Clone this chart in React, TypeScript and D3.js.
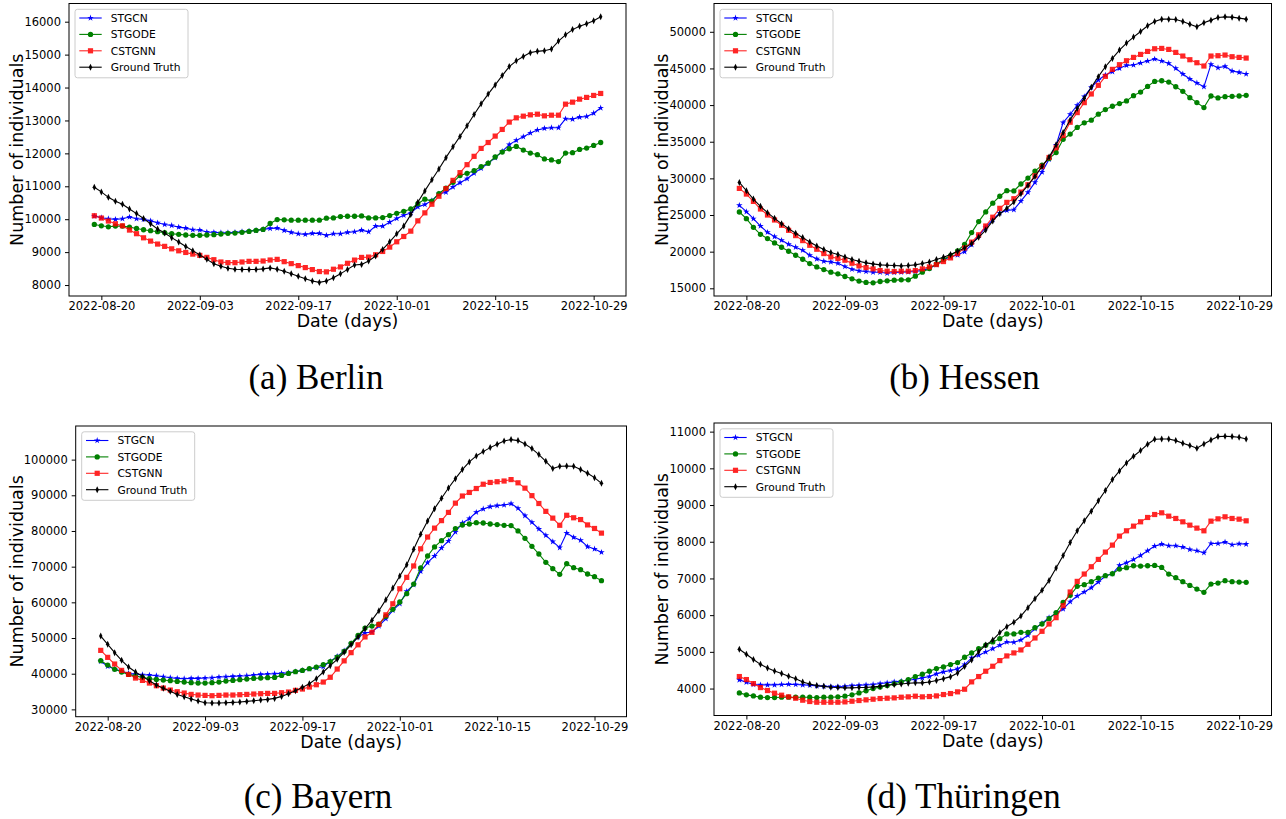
import React, { useRef, useEffect } from 'react';
import * as d3 from 'd3';

// x axis: one point per day, 2022-08-19 .. 2022-10-30
const firstDay = '2022-08-19';
const dayCount = 73;
const xTickLabels = ['2022-08-20', '2022-09-03', '2022-09-17', '2022-10-01', '2022-10-15', '2022-10-29'];
const seriesNames = ['STGCN', 'STGODE', 'CSTGNN', 'Ground Truth'];

// (a) Berlin
const berlinSTGCN = [10095, 10045, 10015, 9995, 10015, 10065, 10015, 9995, 9950, 9890, 9840, 9810, 9760, 9730, 9680, 9670, 9610, 9600, 9590, 9590, 9600, 9620, 9640, 9660, 9690, 9720, 9730, 9660, 9600, 9560, 9540, 9570, 9570, 9510, 9560, 9560, 9600, 9617, 9667, 9617, 9790, 9790, 9910, 10020, 10120, 10190, 10375, 10445, 10565, 10770, 10820, 10980, 11110, 11230, 11395, 11545, 11700, 11870, 12060, 12265, 12395, 12505, 12620, 12710, 12760, 12780, 12780, 13050, 13040, 13100, 13120, 13220, 13380];
const berlinSTGODE = [9840, 9800, 9770, 9790, 9790, 9760, 9720, 9680, 9650, 9620, 9590, 9560, 9540, 9520, 9510, 9510, 9520, 9530, 9550, 9570, 9580, 9600, 9630, 9660, 9690, 9870, 9990, 9980, 9970, 9970, 9970, 9970, 9970, 10030, 10040, 10080, 10090, 10090, 10100, 10040, 10040, 10050, 10110, 10180, 10240, 10310, 10470, 10610, 10550, 10780, 10940, 11120, 11325, 11395, 11475, 11600, 11700, 11890, 12040, 12140, 12210, 12100, 12010, 11960, 11830, 11800, 11750, 12010, 12020, 12120, 12160, 12240, 12330];
const berlinCSTGNN = [10105, 10035, 9945, 9860, 9800, 9670, 9560, 9435, 9335, 9245, 9175, 9100, 9040, 8990, 8940, 8900, 8840, 8770, 8700, 8680, 8680, 8700, 8720, 8720, 8730, 8760, 8780, 8710, 8650, 8590, 8530, 8470, 8410, 8400, 8480, 8550, 8660, 8758, 8839, 8849, 8920, 9020, 9152, 9314, 9475, 9637, 9950, 10193, 10455, 10698, 10930, 11180, 11415, 11657, 11910, 12150, 12330, 12525, 12727, 12950, 13080, 13130, 13170, 13190, 13140, 13160, 13160, 13495, 13556, 13647, 13700, 13760, 13820];
const berlinTruth = [10970, 10830, 10665, 10545, 10455, 10310, 10170, 10020, 9860, 9700, 9580, 9440, 9310, 9170, 9045, 8910, 8780, 8650, 8570, 8510, 8480, 8470, 8470, 8470, 8490, 8520, 8480, 8420, 8340, 8270, 8190, 8120, 8080, 8120, 8220, 8340, 8475, 8607, 8627, 8728, 8880, 9080, 9314, 9556, 9790, 10140, 10515, 10860, 11200, 11525, 11870, 12200, 12515, 12840, 13180, 13505, 13800, 14080, 14364, 14636, 14810, 14940, 15060, 15100, 15120, 15170, 15410, 15600, 15760, 15860, 15940, 16030, 16150];
const berlinTicks = [8000, 9000, 10000, 11000, 12000, 13000, 14000, 15000, 16000];

// (b) Hessen
const hessenSTGCN = [26320, 25455, 24500, 23500, 22640, 22050, 21550, 21010, 20600, 20190, 19510, 19010, 18700, 18600, 18420, 17970, 17600, 17380, 17290, 17200, 17200, 17060, 17150, 17200, 17240, 17300, 17450, 17750, 18200, 18900, 19300, 19550, 20000, 20960, 22190, 23300, 24365, 25275, 25635, 25725, 26905, 28090, 29450, 30855, 32620, 34530, 37615, 38750, 39975, 41150, 42420, 43420, 44100, 44555, 45010, 45420, 45460, 45735, 46010, 46280, 46010, 45690, 45010, 44240, 43555, 43010, 42510, 45550, 45100, 45280, 44650, 44465, 44240];
const hessenSTGODE = [25410, 24500, 23320, 22370, 21780, 21190, 20600, 20055, 19510, 18965, 18380, 17920, 17560, 17200, 16970, 16610, 16300, 15980, 15800, 15750, 15930, 16020, 16110, 16155, 16155, 16655, 17200, 17700, 18330, 18920, 19470, 20100, 21000, 22600, 24100, 25420, 26620, 27560, 28320, 28280, 29230, 30040, 31000, 31800, 32700, 33520, 35330, 36050, 36950, 37580, 37940, 38760, 39390, 39840, 40200, 40570, 41290, 41780, 42550, 43230, 43320, 43140, 42500, 41870, 41010, 40340, 39660, 41240, 40970, 41150, 41200, 41240, 41330];
const hessenCSTGNN = [28630, 27860, 26860, 25820, 25000, 24320, 23600, 22910, 22190, 21510, 20870, 20330, 19740, 19285, 19060, 18830, 18420, 18060, 17830, 17650, 17420, 17330, 17290, 17330, 17330, 17420, 17650, 17920, 18240, 18650, 19150, 19740, 20510, 21300, 22300, 23500, 24700, 25910, 26725, 27225, 28130, 29130, 30355, 31625, 32850, 34165, 35845, 37660, 38975, 40335, 41515, 42695, 43920, 44870, 45510, 46050, 46505, 46915, 47320, 47685, 47730, 47595, 47185, 46690, 46190, 45780, 45330, 46690, 46735, 46825, 46600, 46505, 46415];
const hessenTruth = [29447, 28313, 27180, 26180, 25320, 24550, 23820, 23140, 22505, 21915, 21330, 20780, 20280, 19875, 19600, 19285, 18920, 18700, 18470, 18330, 18200, 18150, 18105, 18060, 18105, 18200, 18380, 18600, 18920, 19240, 19600, 20055, 20510, 21100, 21950, 22950, 24200, 25180, 25910, 26770, 27905, 29040, 30260, 31625, 32900, 34575, 36250, 37980, 39520, 40925, 42420, 43875, 45235, 46370, 47505, 48460, 49275, 50045, 50815, 51400, 51725, 51725, 51680, 51400, 51040, 50680, 51225, 51590, 51950, 52040, 52000, 51860, 51725];
const hessenTicks = [15000, 20000, 25000, 30000, 35000, 40000, 45000, 50000];

// (c) Bayern
const bayernSTGCN = [43460, 42060, 41310, 40650, 40090, 39810, 39720, 39620, 39440, 39160, 38880, 38690, 38600, 38690, 38690, 38780, 38880, 39060, 39160, 39250, 39340, 39440, 39620, 39810, 39900, 40000, 40090, 40280, 40560, 40930, 41310, 41680, 41960, 43460, 44860, 46400, 48410, 50280, 51400, 51680, 53360, 55420, 57760, 59620, 63080, 64950, 68690, 71120, 72990, 75240, 77200, 79720, 82240, 83460, 85240, 86170, 86820, 87100, 87290, 87660, 86360, 84300, 82430, 80560, 78780, 77010, 75330, 79440, 78220, 77380, 75610, 74950, 74020];
const bayernSTGODE = [43640, 42430, 41220, 40470, 39810, 39340, 38970, 38600, 38410, 38220, 38040, 37850, 37660, 37480, 37380, 37380, 37480, 37660, 37940, 38130, 38320, 38500, 38690, 38780, 38880, 38970, 39530, 40090, 40560, 40930, 41400, 41870, 42520, 43360, 44670, 46260, 48500, 50740, 52800, 53360, 53920, 56070, 58030, 60090, 62420, 65130, 69630, 72990, 75520, 77290, 78970, 80660, 81680, 81960, 82340, 82240, 81960, 81780, 81590, 81500, 80000, 77940, 75700, 73550, 71210, 69440, 67850, 70840, 69720, 69160, 67940, 67200, 66070];
const bayernCSTGNN = [46540, 44580, 42710, 40930, 39810, 38780, 38130, 37380, 36630, 35980, 35420, 34950, 34580, 34200, 34020, 33920, 33830, 33920, 34020, 34020, 34110, 34200, 34300, 34390, 34480, 34480, 34670, 34860, 35330, 35700, 36260, 36910, 37660, 39000, 41300, 43600, 45900, 48100, 50300, 51600, 53800, 56500, 59600, 63800, 67000, 70200, 75000, 78300, 80800, 82900, 85200, 87800, 89800, 90800, 91900, 93100, 93600, 93800, 94000, 94400, 93500, 92000, 89900, 87700, 85500, 83600, 81600, 84400, 83700, 83200, 81700, 80700, 79400];
const bayernTruth = [50560, 48220, 45890, 43740, 41870, 40470, 39250, 38040, 36820, 35890, 35050, 34200, 33550, 32900, 32340, 31870, 31780, 31780, 31870, 31960, 32050, 32240, 32430, 32620, 32800, 33080, 33640, 34390, 35230, 36170, 37200, 38600, 40470, 42240, 44020, 45980, 48100, 50300, 52600, 55000, 57660, 60750, 64020, 67380, 70560, 74860, 79070, 82800, 86260, 89160, 92060, 94670, 97200, 99350, 101030, 102240, 103360, 104300, 105230, 105610, 105330, 104390, 103080, 101400, 99530, 97480, 98130, 98220, 98130, 97200, 96170, 94950, 93360];
const bayernTicks = [30000, 40000, 50000, 60000, 70000, 80000, 90000, 100000];

// (d) Thüringen
const thuringenSTGCN = [4236, 4173, 4110, 4100, 4100, 4100, 4110, 4118, 4110, 4100, 4090, 4073, 4063, 4055, 4055, 4063, 4082, 4090, 4100, 4110, 4136, 4155, 4182, 4200, 4227, 4255, 4290, 4327, 4400, 4454, 4490, 4535, 4653, 4835, 4907, 4998, 5088, 5179, 5270, 5261, 5324, 5451, 5632, 5778, 5932, 6050, 6167, 6367, 6521, 6630, 6748, 6902, 7065, 7128, 7355, 7428, 7518, 7627, 7754, 7881, 7935, 7890, 7890, 7854, 7790, 7754, 7700, 7954, 7954, 7990, 7917, 7944, 7935];
const thuringenSTGODE = [3882, 3828, 3800, 3764, 3755, 3755, 3764, 3764, 3764, 3764, 3764, 3755, 3764, 3764, 3774, 3792, 3830, 3880, 3940, 4000, 4040, 4080, 4130, 4180, 4245, 4327, 4390, 4472, 4545, 4590, 4653, 4707, 4853, 4970, 5088, 5180, 5270, 5360, 5487, 5487, 5533, 5533, 5660, 5759, 5904, 6068, 6349, 6539, 6784, 6830, 6911, 7011, 7074, 7128, 7255, 7292, 7346, 7337, 7346, 7355, 7301, 7120, 7020, 6911, 6811, 6711, 6621, 6847, 6875, 6938, 6911, 6902, 6893];
const thuringenCSTGNN = [4327, 4245, 4136, 4027, 3946, 3873, 3819, 3774, 3737, 3683, 3647, 3628, 3628, 3628, 3628, 3637, 3655, 3674, 3692, 3710, 3728, 3737, 3746, 3764, 3774, 3792, 3774, 3783, 3800, 3837, 3864, 3910, 3982, 4182, 4327, 4472, 4608, 4762, 4889, 4971, 5052, 5206, 5378, 5560, 5759, 5932, 6258, 6630, 6920, 7120, 7319, 7518, 7718, 7908, 8153, 8298, 8425, 8543, 8661, 8742, 8788, 8697, 8634, 8543, 8452, 8371, 8298, 8561, 8624, 8679, 8634, 8615, 8570];
const thuringenTruth = [5070, 4935, 4790, 4660, 4560, 4480, 4410, 4335, 4265, 4180, 4125, 4080, 4060, 4035, 4030, 4020, 4020, 4030, 4030, 4045, 4060, 4090, 4110, 4125, 4145, 4155, 4155, 4180, 4220, 4270, 4325, 4425, 4600, 4780, 5000, 5190, 5320, 5524, 5687, 5805, 5977, 6204, 6448, 6675, 6947, 7283, 7627, 7981, 8298, 8570, 8833, 9114, 9395, 9694, 9930, 10148, 10329, 10483, 10655, 10791, 10800, 10800, 10755, 10683, 10619, 10547, 10665, 10773, 10864, 10873, 10864, 10846, 10800];
const thuringenTicks = [4000, 5000, 6000, 7000, 8000, 9000, 10000, 11000];

const W = 1286;
const H = 819;
const SANS = 'DejaVu Sans, sans-serif';

const styles = [
  { color: '#0000ff', marker: 'star', opacity: 1 },
  { color: '#008000', marker: 'circle', opacity: 1 },
  { color: '#ff0000', marker: 'square', opacity: 0.85 },
  { color: '#000000', marker: 'diamond', opacity: 1 },
];

const panels = [
  { caption: '(a) Berlin', series: [berlinSTGCN, berlinSTGODE, berlinCSTGNN, berlinTruth], ticks: berlinTicks,
    yDomain: [7667, 16553], left: 69, right: 626, top: 3.5, bottom: 296, labelX: 22.5, capX: 316, capY: 389 },
  { caption: '(b) Hessen', series: [hessenSTGCN, hessenSTGODE, hessenCSTGNN, hessenTruth], ticks: hessenTicks,
    yDomain: [13950, 53860], left: 714, right: 1271.5, top: 3.5, bottom: 296, labelX: 668, capX: 964.5, capY: 389 },
  { caption: '(c) Bayern', series: [bayernSTGCN, bayernSTGODE, bayernCSTGNN, bayernTruth], ticks: bayernTicks,
    yDomain: [27950, 109420], left: 75.7, right: 626.5, top: 426, bottom: 716.7, labelX: 22.5, capX: 318, capY: 808 },
  { caption: '(d) Thüringen', series: [thuringenSTGCN, thuringenSTGODE, thuringenCSTGNN, thuringenTruth], ticks: thuringenTicks,
    yDomain: [3266, 11235], left: 714, right: 1271.5, top: 423, bottom: 715.5, labelX: 668, capX: 963.5, capY: 808 },
];

function markerPath(kind: string) {
  if (kind === 'star') return d3.symbol(d3.symbolStar, 13)();
  if (kind === 'circle') return d3.symbol(d3.symbolCircle, 22)();
  if (kind === 'square') return d3.symbol(d3.symbolSquare, 27)();
  return 'M0,-3.5L1.7,0L0,3.5L-1.7,0Z';
}

function App() {
  const svgRef = useRef<SVGSVGElement>(null);

  useEffect(() => {
    const svg = d3.select(svgRef.current);
    svg.selectAll('*').remove();
    svg.append('rect').attr('width', W).attr('height', H).attr('fill', '#fff');

    const parse = d3.utcParse('%Y-%m-%d');
    const start = parse(firstDay) as Date;
    const days = d3.range(dayCount).map((i) => d3.utcDay.offset(start, i));
    const tickDates = xTickLabels.map((s) => parse(s) as Date);
    const pad = 3.6 * 864e5;

    panels.forEach((p) => {
      const g = svg.append('g');
      const x = d3.scaleUtc()
        .domain([new Date(+days[0] - pad), new Date(+days[dayCount - 1] + pad)])
        .range([p.left, p.right]);
      const y = d3.scaleLinear().domain(p.yDomain).range([p.bottom, p.top]);

      const line = d3.line<number>()
        .x((d, i) => x(days[i]))
        .y((d) => y(d));

      p.series.forEach((values, k) => {
        const st = styles[k];
        const sg = g.append('g').attr('opacity', st.opacity);
        sg.append('path')
          .attr('d', line(values))
          .attr('fill', 'none')
          .attr('stroke', st.color)
          .attr('stroke-width', 1.1);
        sg.selectAll(null)
          .data(values)
          .join('path')
          .attr('transform', (d, i) => `translate(${x(days[i])},${y(d)})`)
          .attr('d', markerPath(st.marker))
          .attr('fill', st.color);
      });

      // axes
      const xAxis = g.append('g')
        .attr('transform', `translate(0,${p.bottom})`)
        .call(d3.axisBottom(x).tickValues(tickDates).tickFormat(d3.utcFormat('%Y-%m-%d') as any).tickSize(4).tickPadding(2));
      xAxis.select('.domain').remove();
      xAxis.attr('font-size', 11.5).attr('font-family', SANS);
      xAxis.selectAll('text').attr('fill', '#000');

      const yAxis = g.append('g')
        .attr('transform', `translate(${p.left},0)`)
        .call(d3.axisLeft(y).tickValues(p.ticks).tickFormat(d3.format('d')).tickSize(4).tickPadding(4));
      yAxis.select('.domain').remove();
      yAxis.attr('font-size', 11.5).attr('font-family', SANS);
      yAxis.selectAll('text').attr('fill', '#000');

      g.append('rect')
        .attr('x', p.left).attr('y', p.top)
        .attr('width', p.right - p.left).attr('height', p.bottom - p.top)
        .attr('fill', 'none').attr('stroke', '#000').attr('stroke-width', 1);

      g.append('text')
        .attr('transform', `translate(${p.labelX},${(p.top + p.bottom) / 2}) rotate(-90)`)
        .attr('text-anchor', 'middle')
        .attr('font-family', SANS).attr('font-size', 17.5)
        .text('Number of individuals');

      g.append('text')
        .attr('x', (p.left + p.right) / 2).attr('y', p.bottom + 31)
        .attr('text-anchor', 'middle')
        .attr('font-family', SANS).attr('font-size', 17.4)
        .text('Date (days)');

      // legend
      const lx = p.left + 6;
      const ly = p.top + 5.8;
      const lg = g.append('g');
      lg.append('rect')
        .attr('x', lx).attr('y', ly).attr('width', 113).attr('height', 68.5).attr('rx', 2.5)
        .attr('fill', '#fff').attr('fill-opacity', 0.8)
        .attr('stroke', '#cccccc').attr('stroke-width', 1);
      seriesNames.forEach((name, k) => {
        const st = styles[k];
        const cy = ly + 8.7 + 16.4 * k;
        const eg = lg.append('g').attr('opacity', st.opacity);
        eg.append('line')
          .attr('x1', lx + 4.3).attr('x2', lx + 26.7).attr('y1', cy).attr('y2', cy)
          .attr('stroke', st.color).attr('stroke-width', 1.1);
        eg.append('path')
          .attr('transform', `translate(${lx + 15.5},${cy})`)
          .attr('d', markerPath(st.marker))
          .attr('fill', st.color);
        lg.append('text')
          .attr('x', lx + 35.7).attr('y', cy).attr('dy', '0.36em')
          .attr('font-family', SANS).attr('font-size', 10.7)
          .text(name);
      });

      svg.append('text')
        .attr('x', p.capX).attr('y', p.capY)
        .attr('text-anchor', 'middle')
        .attr('font-family', 'Liberation Serif, serif').attr('font-size', 35)
        .text(p.caption);
    });
  }, []);

  return (
    <svg ref={svgRef} width={W} height={H} style={{ position: 'absolute', left: 0, top: 0 }} />
  );
}

export default App;
